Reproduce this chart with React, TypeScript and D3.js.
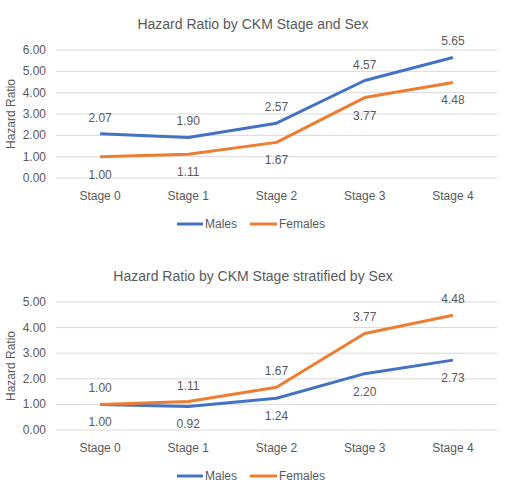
import React from "react";
import * as d3 from "d3";

const stages = ["Stage 0", "Stage 1", "Stage 2", "Stage 3", "Stage 4"];
const males1 = [2.07, 1.9, 2.57, 4.57, 5.65];
const females1 = [1.0, 1.11, 1.67, 3.77, 4.48];
const males2 = [1.0, 0.92, 1.24, 2.2, 2.73];
const females2 = [1.0, 1.11, 1.67, 3.77, 4.48];
const ticks1 = [0, 1, 2, 3, 4, 5, 6];
const ticks2 = [0, 1, 2, 3, 4, 5];
const title1 = "Hazard Ratio by CKM Stage and Sex";
const title2 = "Hazard Ratio by CKM Stage stratified by Sex";

const BLUE = "#4472C4";
const ORANGE = "#ED7D31";
const TXT = "#595959";
const FONT = "'Liberation Sans', Arial, sans-serif";

type Props = {
  top: number;
  title: string;
  males: number[];
  females: number[];
  ticks: number[];
  yTop: number;
  yBottom: number;
  malesAbove: boolean;
};

function Chart({ top, title, males, females, ticks, yTop, yBottom, malesAbove }: Props) {
  const x = d3.scaleBand<string>().domain(stages).range([56, 497]);
  const y = d3
    .scaleLinear()
    .domain([0, ticks[ticks.length - 1]])
    .range([top + yBottom, top + yTop]);
  const line = d3
    .line<number>()
    .x((_, i) => (x(stages[i]) as number) + x.bandwidth() / 2)
    .y((d) => y(d));
  const cx = (i: number) => (x(stages[i]) as number) + x.bandwidth() / 2;
  const series = [
    { name: "Males", data: males, color: BLUE, above: malesAbove },
    { name: "Females", data: females, color: ORANGE, above: !malesAbove },
  ];
  return (
    <g fontFamily={FONT} fill={TXT}>
      <text x={253} y={top + 24} textAnchor="middle" dominantBaseline="central" fontSize={14}>
        {title}
      </text>
      {ticks.map((t) => (
        <g key={t}>
          <line x1={56} x2={497} y1={y(t)} y2={y(t)} stroke="#D9D9D9" strokeWidth={1} />
          <text x={46} y={y(t)} textAnchor="end" dominantBaseline="central" fontSize={12}>
            {t.toFixed(2)}
          </text>
        </g>
      ))}
      <text
        transform={`translate(11,${(y(0) + y(ticks[ticks.length - 1])) / 2}) rotate(-90)`}
        textAnchor="middle"
        dominantBaseline="central"
        fontSize={12}
      >
        Hazard Ratio
      </text>
      {stages.map((s, i) => (
        <text key={s} x={cx(i)} y={y(0) + 18} textAnchor="middle" dominantBaseline="central" fontSize={12}>
          {s}
        </text>
      ))}
      {series.map((se) => (
        <path key={se.name} d={line(se.data) || ""} fill="none" stroke={se.color} strokeWidth={3} strokeLinejoin="round" />
      ))}
      {series.map((se) =>
        se.data.map((v, i) => (
          <text
            key={se.name + i}
            x={cx(i)}
            y={y(v) + (se.above ? -16 : 18)}
            textAnchor="middle"
            dominantBaseline="central"
            fontSize={12}
          >
            {v.toFixed(2)}
          </text>
        ))
      )}
      <g>
        <line x1={177} x2={203} y1={y(0) + 46} y2={y(0) + 46} stroke={BLUE} strokeWidth={3} />
        <text x={205} y={y(0) + 46} dominantBaseline="central" fontSize={12}>Males</text>
        <line x1={250} x2={277} y1={y(0) + 46} y2={y(0) + 46} stroke={ORANGE} strokeWidth={3} />
        <text x={279} y={y(0) + 46} dominantBaseline="central" fontSize={12}>Females</text>
      </g>
    </g>
  );
}

export default function App() {
  return (
    <svg width={505} height={490} style={{ position: "absolute", left: 0, top: 0, background: "#fff" }}>
      <rect width={505} height={490} fill="#fff" />
      <Chart top={0} title={title1} males={males1} females={females1} ticks={ticks1} yTop={50} yBottom={178} malesAbove={true} />
      <Chart top={252} title={title2} males={males2} females={females2} ticks={ticks2} yTop={50} yBottom={178} malesAbove={false} />
    </svg>
  );
}
